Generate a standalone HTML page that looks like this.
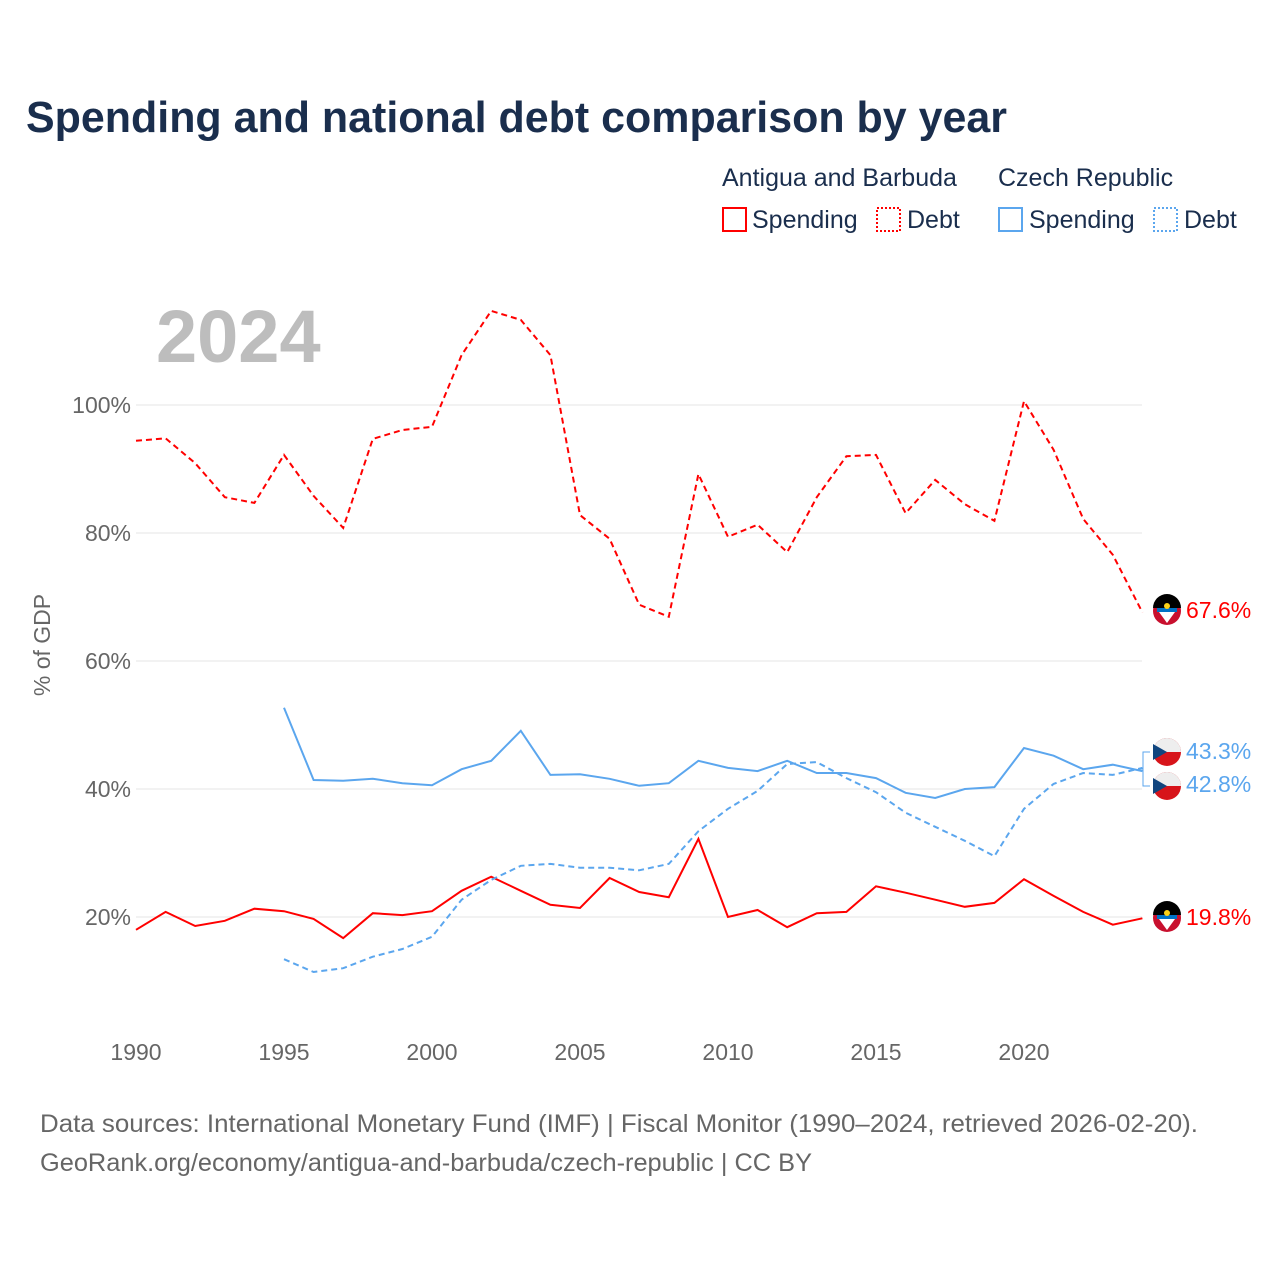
<!DOCTYPE html>
<html><head><meta charset="utf-8"><style>
body{margin:0;background:#fff;font-family:"Liberation Sans",sans-serif}
</style></head><body>
<svg id="chart" width="1280" height="1280" xmlns="http://www.w3.org/2000/svg" font-family="Liberation Sans, sans-serif">
<rect width="1280" height="1280" fill="#fff"/>
<text x="26" y="132" font-size="44" font-weight="bold" fill="#1a2e4d" textLength="981" lengthAdjust="spacingAndGlyphs">Spending and national debt comparison by year</text>
<g font-size="25" fill="#1a2e4d">
<text x="722" y="186">Antigua and Barbuda</text>
<text x="998" y="186">Czech Republic</text>
<g><rect x="723" y="208" width="23" height="23" fill="none" stroke="#f00" stroke-width="2"/><text x="752" y="228">Spending</text></g>
<g><rect x="877" y="208" width="23" height="23" fill="none" stroke="#f00" stroke-width="2" stroke-dasharray="2,2"/><text x="907" y="228">Debt</text></g>
<g><rect x="999" y="208" width="23" height="23" fill="none" stroke="#5ba6ee" stroke-width="2"/><text x="1029" y="228">Spending</text></g>
<g><rect x="1154" y="208" width="23" height="23" fill="none" stroke="#5ba6ee" stroke-width="2" stroke-dasharray="2,2"/><text x="1184" y="228">Debt</text></g>
</g>
<text x="156" y="362" font-size="74" font-weight="bold" fill="#bdbdbd">2024</text>
<text transform="translate(50,645) rotate(-90)" text-anchor="middle" font-size="23" fill="#666">% of GDP</text>
<g id="grid"></g><g id="series"></g><g id="labels"></g>
<text x="40" y="1132" font-size="25" fill="#666" textLength="1158" lengthAdjust="spacingAndGlyphs">Data sources: International Monetary Fund (IMF) | Fiscal Monitor (1990–2024, retrieved 2026-02-20).</text>
<text x="40" y="1171" font-size="25" fill="#666" textLength="772" lengthAdjust="spacingAndGlyphs">GeoRank.org/economy/antigua-and-barbuda/czech-republic | CC BY</text>
</svg>
<script>
const years=[];for(let y=1990;y<=2024;y++)years.push(y);
const abDebt=[94.4,94.8,90.9,85.6,84.7,92.2,85.8,80.8,94.7,96.1,96.6,107.8,114.7,113.3,107.8,82.8,79.1,68.8,66.9,89.2,79.4,81.3,77.0,85.6,92.0,92.2,83.1,88.3,84.5,81.9,100.6,93.0,82.2,76.6,67.6];
const abSpending=[18.0,20.8,18.6,19.4,21.3,20.9,19.7,16.7,20.6,20.3,20.9,24.1,26.3,24.1,21.9,21.4,26.1,23.9,23.1,32.2,20.0,21.1,18.4,20.6,20.8,24.8,23.8,22.7,21.6,22.2,25.9,23.3,20.8,18.8,19.8];
const czYears=[];for(let y=1995;y<=2024;y++)czYears.push(y);
const czSpending=[52.7,41.4,41.3,41.6,40.9,40.6,43.1,44.4,49.1,42.2,42.3,41.6,40.5,40.9,44.4,43.3,42.8,44.4,42.5,42.5,41.7,39.4,38.6,40.0,40.3,46.4,45.2,43.1,43.8,42.8];
const czDebt=[13.4,11.4,12.0,13.8,15.0,16.9,22.7,25.8,28.0,28.3,27.7,27.7,27.3,28.3,33.4,36.9,39.7,43.9,44.2,41.7,39.5,36.3,34.1,31.9,29.5,36.9,40.8,42.5,42.2,43.3];
const yTicks=[20,40,60,80,100];
const xTicks=[1990,1995,2000,2005,2010,2015,2020];
const X=y=>136+(y-1990)*29.6, Y=v=>1045-v*6.4;
const NS='http://www.w3.org/2000/svg';
function el(t,a,p){const e=document.createElementNS(NS,t);for(const k in a)e.setAttribute(k,a[k]);document.getElementById(p).appendChild(e);return e;}
yTicks.forEach(v=>{
 const l=el('line',{x1:136,x2:1142,y1:Y(v),y2:Y(v),stroke:'#e6e6e6'},'grid');
 
 
 const t=el('text',{x:131,y:Y(v)+8,'text-anchor':'end','font-size':23,fill:'#666'},'grid');t.textContent=v+'%';
 
 
});
xTicks.forEach(v=>{
 const t=el('text',{x:X(v),y:1060,'text-anchor':'middle','font-size':23,fill:'#666'},'grid');t.textContent=v;
 
 
});
function line(xs,vs,color,dash,name){
 const d=vs.map((v,i)=>(i?'L':'M')+X(xs[i]).toFixed(1)+','+Y(v).toFixed(1)).join('');
 const p=el('path',{d:d,fill:'none',stroke:color,'stroke-width':2,'stroke-dasharray':dash||'none'},'series');
 
 
}
line(years,abDebt,'#f00','6,4','line-ab-debt');
line(years,abSpending,'#f00','','line-ab-spending');
line(czYears,czDebt,'#5ba6ee','6,4','line-cz-debt');
line(czYears,czSpending,'#5ba6ee','','line-cz-spending');
function flag(cy,ab,name){
 const g=el('g',{},'labels');
 
 
 const cx=1167;
 if(ab){
  g.innerHTML=`<circle cx="${cx}" cy="${cy}" r="14" fill="#c8102e"/><path d="M${cx-14},${cy-3} A14,14 0 0 1 ${cx+14},${cy-3} Z" fill="#000"/><rect x="${cx-10}" y="${cy-3}" width="20" height="4" fill="#0072c6"/><path d="M${cx-8},${cy+1} L${cx+8},${cy+1} L${cx},${cy+12} Z" fill="#fff"/><circle cx="${cx}" cy="${cy-5}" r="3" fill="#fcd116"/>`;
 }else{
  g.innerHTML=`<circle cx="${cx}" cy="${cy}" r="14" fill="#d7141a"/><path d="M${cx-14},${cy} A14,14 0 0 1 ${cx+14},${cy} Z" fill="#eee"/><path d="M${cx-14},${cy-8} L${cx},${cy} L${cx-14},${cy+8} Z" fill="#11457e"/>`;
 }
}
function label(y,txt,color,name){
 const t=el('text',{x:1186,y:y+8,'font-size':23,fill:color},'labels');t.textContent=txt;
 
 
}
flag(611,true,'flag-ab-debt');label(610,abDebt[34].toFixed(1)+'%','#f00','end-label-ab-debt');
flag(918,true,'flag-ab-spending');label(917,abSpending[34].toFixed(1)+'%','#f00','end-label-ab-spending');
flag(752,false,'flag-cz-debt');label(751,czDebt[29].toFixed(1)+'%','#5ba6ee','end-label-cz-debt');
flag(786,false,'flag-cz-spending');label(784,czSpending[29].toFixed(1)+'%','#5ba6ee','end-label-cz-spending');
const c=el('path',{d:'M1150,752 L1143,752 L1143,786 L1150,786 M1143,769 L1138,769',fill:'none',stroke:'#5ba6ee','stroke-width':1},'labels');


</script>
</body></html>
